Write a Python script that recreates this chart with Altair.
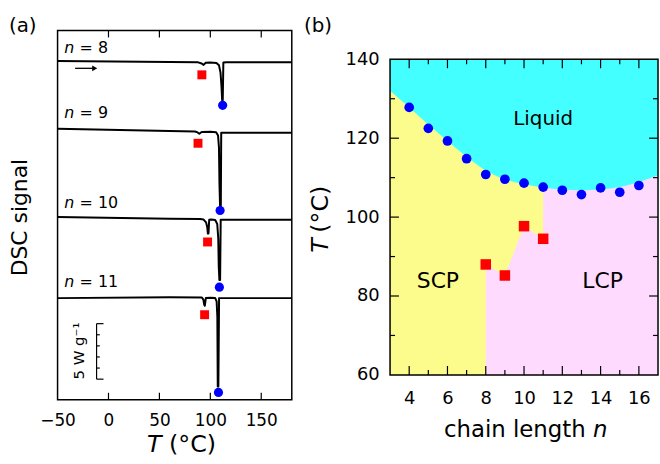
import altair as alt
import pandas as pd

FONT = "DejaVu Sans"

# ---------------- panel (a): DSC traces (T in °C, signal in W/g, offset) ----------------
trace_names = ["8", "9", "10", "11"]
T8 = [-50, 60, 88, 91.5, 93.4, 95.5, 100, 106, 108.5, 110, 111, 111.6, 112.2, 112.8, 116, 180]
S8 = [30.65, 30.56, 30.52, 30.42, 30.29, 30.48, 30.50, 30.46, 30.25, 29.6, 28.3, 27.1, 27.1, 30.5, 30.52, 30.52]
T9 = [-50, 60, 85, 87.5, 89.2, 91.5, 100, 105.7, 107.6, 108.5, 109.0, 109.6, 110.3, 110.7, 115, 180]
S9 = [24.51, 24.30, 24.26, 24.18, 24.06, 24.22, 24.24, 24.20, 23.9, 22.8, 19.5, 17.4, 17.4, 24.15, 24.15, 24.15]
T10 = [-50, 60, 90, 93.4, 95.8, 97.0, 97.6, 98.2, 98.9, 101, 104.8, 106.8, 107.8, 108.3, 108.9, 109.6, 110.2, 114, 180]
S10 = [16.52, 16.37, 16.34, 16.30, 16.05, 15.6, 15.03, 15.03, 16.28, 16.30, 16.25, 15.9, 14.6, 12.0, 10.83, 10.83, 16.28, 16.28, 16.28]
T11 = [-50, 60, 91.7, 93.2, 94.0, 94.6, 95.6, 100, 104.8, 106.2, 106.9, 107.3, 107.9, 108.6, 112, 180]
S11 = [9.19, 9.28, 9.25, 9.05, 8.6, 8.5, 9.2, 9.22, 9.20, 8.9, 7.5, 1.2, 1.2, 9.19, 9.19, 9.19]

# transition markers on traces
sq_a_T = [91.7, 87.9, 97.3, 94.4]
sq_a_S = [29.39, 23.2, 14.27, 7.69]
dot_a_T = [112.1, 109.6, 108.9, 108.0]
dot_a_S = [26.63, 17.12, 10.18, 0.66]

# trace labels
lab_S = [31.33, 25.49, 17.36, 10.18]

# scale bar (5 W/g) and heating arrow
bar_T = -11.7
bar_lo, bar_hi = 1.86, 6.88
bar_ticks = [1.86, 2.864, 3.868, 4.872, 5.876, 6.88]
a_ticks = [0, 50, 100, 150]
a_labels = [-50, 0, 50, 100, 150]

# ---------------- panel (b): phase diagram ----------------
n_dots = [4, 5, 6, 7, 8, 9, 10, 11, 12, 13, 14, 15, 16]
T_dots = [127.8, 122.5, 119.3, 114.8, 110.8, 109.6, 108.6, 107.6, 106.8, 105.7, 107.4, 106.3, 108.0]
n_sq = [8, 9, 10, 11]
T_sq = [88.0, 85.2, 97.7, 94.5]
bound_n = [3, 4, 5, 6, 7, 8, 9, 10, 11, 12, 13, 14, 15, 16, 17]
bound_T = [132.0, 127.8, 123.5, 119.3, 115.3, 111.8, 109.6, 108.3, 107.5, 107.0, 106.8, 107.0, 107.6, 108.9, 110.6]
scp_n = [3, 8, 8, 9, 10, 11]
scp_T = [60, 60, 88.0, 85.2, 97.7, 94.5]
region_names = ["Liquid", "SCP", "LCP"]
region_n = [11.0, 5.5, 14.1]
region_T = [123.4, 82.0, 82.0]
b_xlabels = [4, 6, 8, 10, 12, 14, 16]
b_ylabels = [60, 80, 100, 120, 140]

WA, HA = 236, 372
WB, HB = 270, 347      # panel (b) group; its plot spans y = 29 .. 347
B_TOP = 29

# ---------------- build panel (a) ----------------
sxa = alt.Scale(domain=[-50, 180], nice=False, zero=False)
sya = alt.Scale(domain=[0, 33.4], nice=False, zero=False)
axa = alt.Axis(values=a_labels, title=None, ticks=False, tickSize=0, domain=False,
               grid=False, labelFontSize=17, labelPadding=13, labelFlush=False, labelColor="black",
               labelFont=FONT)


def XA(f):
    return alt.X(f, type="quantitative", scale=sxa, axis=axa)


def YA(f):
    return alt.Y(f, type="quantitative", scale=sya, axis=None)


rows = []
for name, ts, ss in zip(trace_names, [T8, T9, T10, T11], [S8, S9, S10, S11]):
    for i, (t, s) in enumerate(zip(ts, ss)):
        rows.append({"n": name, "T": t, "S": s, "i": i})
traces = pd.DataFrame(rows)

lines_a = alt.Chart(traces).mark_line(color="black", strokeWidth=2, strokeJoin="round").encode(
    x=XA("T"), y=YA("S"), detail="n:N", order="i:Q")

sq_a = alt.Chart(pd.DataFrame({"T": sq_a_T, "S": sq_a_S})).mark_point(
    shape="square", filled=True, size=81, color="#FF0000", opacity=1).encode(x=XA("T"), y=YA("S"))
dot_a = alt.Chart(pd.DataFrame({"T": dot_a_T, "S": dot_a_S})).mark_circle(
    size=85, color="#0000FF", opacity=1).encode(x=XA("T"), y=YA("S"))

labs = pd.DataFrame({"S": lab_S, "eq": ["= " + n for n in trace_names], "nn": ["n"] * 4,
                     "Tn": [-43.5] * 4, "Te": [-28.4] * 4})
lab_n = alt.Chart(labs).mark_text(fontSize=16, fontStyle="italic", align="left", baseline="alphabetic",
                                  color="black").encode(x=XA("Tn"), y=YA("S"), text="nn:N")
lab_e = alt.Chart(labs).mark_text(fontSize=16, align="left", baseline="alphabetic",
                                  color="black").encode(x=XA("Te"), y=YA("S"), text="eq:N")

tk = pd.DataFrame({"T": a_ticks})
ticks_a_top = alt.Chart(tk).mark_rule(color="black", strokeWidth=1.2).encode(
    x=XA("T"), y=alt.value(0), y2=alt.value(7))
ticks_a_bot = alt.Chart(tk).mark_rule(color="black", strokeWidth=1.2).encode(
    x=XA("T"), y=alt.value(HA), y2=alt.value(HA - 7))

bar_v = alt.Chart(pd.DataFrame({"T": [bar_T], "lo": [bar_lo], "hi": [bar_hi]})).mark_rule(
    color="black", strokeWidth=1.2).encode(x=XA("T"), y=YA("lo"), y2=alt.Y2("hi"))
bar_tk = pd.DataFrame({"S": bar_ticks, "T": [bar_T] * 6,
                       "T2": [bar_T + 6.8 if k in (0, 5) else bar_T + 3.2 for k in range(6)]})
bar_h = alt.Chart(bar_tk).mark_rule(color="black", strokeWidth=1.2).encode(
    x=XA("T"), x2=alt.X2("T2"), y=YA("S"))
bar_lab = alt.Chart(pd.DataFrame({"T": [-29.0], "S": [4.4], "t": ["5 W g\u207b\u00b9"]})).mark_text(
    fontSize=15, angle=270, align="center", baseline="middle", color="black").encode(
    x=XA("T"), y=YA("S"), text="t:N")

arrow_shaft = alt.Chart(pd.DataFrame({"T": [-32.8], "T2": [-14.0], "S": [29.98]})).mark_rule(
    color="black", strokeWidth=1.3).encode(x=XA("T"), x2=alt.X2("T2"), y=YA("S"))
arrow_head = alt.Chart(pd.DataFrame({"T": [-13.5], "S": [29.98]})).mark_point(
    shape="triangle-right", filled=True, size=35, color="black", opacity=1).encode(x=XA("T"), y=YA("S"))

panel_a_label = alt.Chart(pd.DataFrame({"t": ["(a)"]})).mark_text(
    fontSize=20, align="left", baseline="alphabetic", color="black").encode(
    x=alt.value(-49), y=alt.value(1.7), text="t:N")
ytitle_a = alt.Chart(pd.DataFrame({"t": ["DSC signal"]})).mark_text(
    fontSize=22, angle=270, align="center", baseline="alphabetic", color="black").encode(
    x=alt.value(-30.6), y=alt.value(188.5), text="t:N")
xt_a1 = alt.Chart(pd.DataFrame({"t": ["T"]})).mark_text(
    fontSize=24, fontStyle="italic", align="left", baseline="alphabetic", color="black").encode(
    x=alt.value(90), y=alt.value(425), text="t:N")
xt_a2 = alt.Chart(pd.DataFrame({"t": ["(\u00b0C)"]})).mark_text(
    fontSize=24, align="left", baseline="alphabetic", color="black").encode(
    x=alt.value(112.3), y=alt.value(425), text="t:N")

panel_a = alt.layer(lines_a, ticks_a_top, ticks_a_bot, sq_a, dot_a, lab_n, lab_e, bar_v, bar_h,
                    bar_lab, arrow_shaft, arrow_head, panel_a_label, ytitle_a, xt_a1, xt_a2
                    ).properties(width=WA, height=HA)

# ---------------- build panel (b) ----------------
sxb = alt.Scale(domain=[3, 17], nice=False, zero=False)
syb = alt.Scale(domain=[60, 140], nice=False, zero=False, range=[HB, B_TOP])
axbx = alt.Axis(values=b_xlabels, title=None, ticks=False, tickSize=0, domain=False,
                grid=False, labelFontSize=18, labelPadding=14.5, labelFlush=False, labelColor="black",
                labelFont=FONT)
axby = alt.Axis(values=b_ylabels, title=None, ticks=False, tickSize=0, domain=False,
                grid=False, labelFontSize=18, labelPadding=11, labelFlush=False, labelColor="black",
                labelFont=FONT)


def XB(f):
    return alt.X(f, type="quantitative", scale=sxb, axis=axbx)


def YB(f):
    return alt.Y(f, type="quantitative", scale=syb, axis=axby)


box = pd.DataFrame({"a": [3], "b": [17], "lo": [60], "hi": [140]})
pink = alt.Chart(box).mark_rect(color="#FFDAFF").encode(
    x=XB("a"), x2=alt.X2("b"), y=YB("lo"), y2=alt.Y2("hi"))
yellow = alt.Chart(pd.DataFrame({"n": scp_n, "T": scp_T, "top": [140] * len(scp_n)})).mark_area(
    color="#FCFC8C", opacity=1).encode(x=XB("n"), y=YB("T"), y2=alt.Y2("top"))
cyan = alt.Chart(pd.DataFrame({"n": bound_n, "T": bound_T, "top": [140] * len(bound_n)})).mark_area(
    color="#44FFFF", opacity=1, interpolate="monotone").encode(x=XB("n"), y=YB("T"), y2=alt.Y2("top"))
frame = alt.Chart(box).mark_rect(fillOpacity=0, stroke="black", strokeWidth=1.5).encode(
    x=XB("a"), x2=alt.X2("b"), y=YB("lo"), y2=alt.Y2("hi"))

xmaj = pd.DataFrame({"v": [4, 6, 8, 10, 12, 14, 16]})
xmin = pd.DataFrame({"v": [5, 7, 9, 11, 13, 15]})
ymaj = pd.DataFrame({"v": [80, 100, 120]})
ymin = pd.DataFrame({"v": [70, 90, 110, 130]})


def xticks(df, L):
    top = alt.Chart(df).mark_rule(color="black", strokeWidth=1.2).encode(
        x=XB("v"), y=alt.value(B_TOP), y2=alt.value(B_TOP + L))
    bot = alt.Chart(df).mark_rule(color="black", strokeWidth=1.2).encode(
        x=XB("v"), y=alt.value(HB), y2=alt.value(HB - L))
    return [top, bot]


def yticks(df, L):
    left = alt.Chart(df).mark_rule(color="black", strokeWidth=1.2).encode(
        y=YB("v"), x=alt.value(0), x2=alt.value(L))
    right = alt.Chart(df).mark_rule(color="black", strokeWidth=1.2).encode(
        y=YB("v"), x=alt.value(WB), x2=alt.value(WB - L))
    return [left, right]


tick_layers = xticks(xmaj, 9) + xticks(xmin, 5) + yticks(ymaj, 9) + yticks(ymin, 5)

dots_b = alt.Chart(pd.DataFrame({"n": n_dots, "T": T_dots})).mark_circle(
    size=95, color="#0000FF", opacity=1).encode(x=XB("n"), y=YB("T"))
sq_b = alt.Chart(pd.DataFrame({"n": n_sq, "T": T_sq})).mark_point(
    shape="square", filled=True, size=112, color="#FF0000", opacity=1).encode(x=XB("n"), y=YB("T"))

reg = pd.DataFrame({"n": region_n, "T": region_T, "t": region_names})
reg_txt1 = alt.Chart(reg.iloc[[0]]).mark_text(fontSize=20, align="center", baseline="alphabetic",
                                              color="black").encode(x=XB("n"), y=YB("T"), text="t:N")
reg_txt2 = alt.Chart(reg.iloc[[1, 2]]).mark_text(fontSize=22, align="center", baseline="alphabetic",
                                                 color="black").encode(x=XB("n"), y=YB("T"), text="t:N")

panel_b_label = alt.Chart(pd.DataFrame({"t": ["(b)"]})).mark_text(
    fontSize=20, align="left", baseline="alphabetic", color="black").encode(
    x=alt.value(-86.7), y=alt.value(1.7), text="t:N")
yt_b1 = alt.Chart(pd.DataFrame({"t": ["T"]})).mark_text(
    fontSize=24, fontStyle="italic", angle=270, align="center", baseline="alphabetic", color="black").encode(
    x=alt.value(-63), y=alt.value(216.6), text="t:N")
yt_b2 = alt.Chart(pd.DataFrame({"t": ["(\u00b0C)"]})).mark_text(
    fontSize=24, angle=270, align="center", baseline="alphabetic", color="black").encode(
    x=alt.value(-63), y=alt.value(180), text="t:N")
xt_b1 = alt.Chart(pd.DataFrame({"t": ["chain length"]})).mark_text(
    fontSize=23, align="left", baseline="alphabetic", color="black").encode(
    x=alt.value(54.3), y=alt.value(409.3), text="t:N")
xt_b2 = alt.Chart(pd.DataFrame({"t": ["n"]})).mark_text(
    fontSize=23, fontStyle="italic", align="left", baseline="alphabetic", color="black").encode(
    x=alt.value(204.6), y=alt.value(409.3), text="t:N")

panel_b = alt.layer(pink, yellow, cyan, *tick_layers, frame, dots_b, sq_b, reg_txt1, reg_txt2,
                    panel_b_label, yt_b1, yt_b2, xt_b1, xt_b2).properties(
    width=WB, height=HB, view=alt.ViewBackground(stroke="transparent"))

chart = alt.hconcat(panel_a, panel_b, spacing=9).properties(
    padding={"left": 8, "top": 13, "right": 0, "bottom": 0}
).configure(font=FONT).configure_view(stroke="black", strokeWidth=1.5)

chart.save("out.html", embed_options={"renderer": "svg", "actions": False})
